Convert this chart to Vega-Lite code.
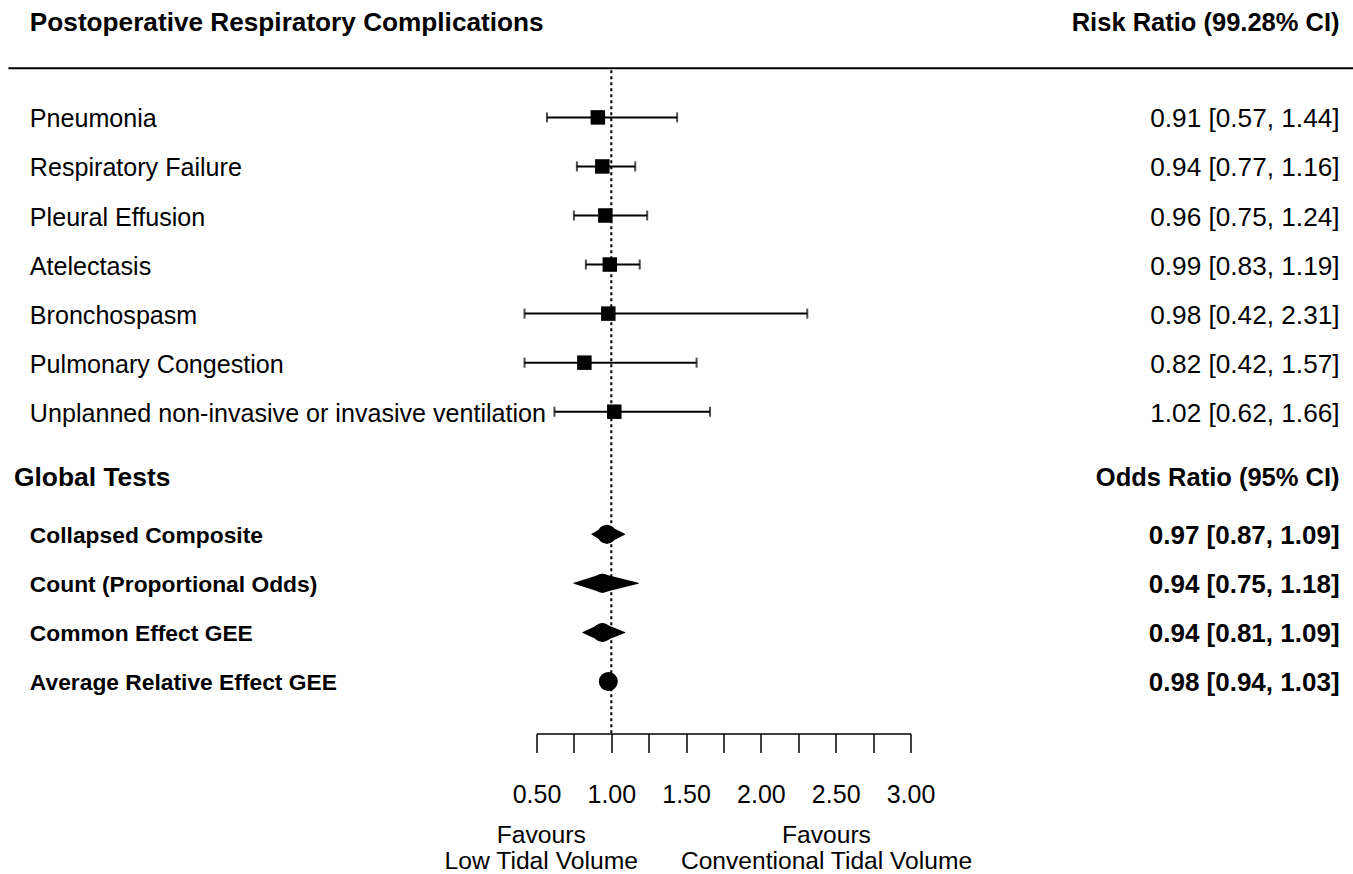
{
  "$schema": "https://vega.github.io/schema/vega-lite/v6.json",
  "width": 374,
  "height": 733.5,
  "autosize": {"type": "none"},
  "padding": {"left": 536.5, "top": 0, "right": 442.5, "bottom": 140.5},
  "background": "white",
  "config": {"view": {"stroke": null}, "font": "Liberation Sans"},
  "datasets": {
    "outcomes": [
      {"label": "Pneumonia", "est": 0.91, "lo": 0.57, "hi": 1.44, "row": 17, "ci": "0.91 [0.57, 1.44]"},
      {"label": "Respiratory Failure", "est": 0.94, "lo": 0.77, "hi": 1.16, "row": 16, "ci": "0.94 [0.77, 1.16]"},
      {"label": "Pleural Effusion", "est": 0.96, "lo": 0.75, "hi": 1.24, "row": 15, "ci": "0.96 [0.75, 1.24]"},
      {"label": "Atelectasis", "est": 0.99, "lo": 0.83, "hi": 1.19, "row": 14, "ci": "0.99 [0.83, 1.19]"},
      {"label": "Bronchospasm", "est": 0.98, "lo": 0.42, "hi": 2.31, "row": 13, "ci": "0.98 [0.42, 2.31]"},
      {"label": "Pulmonary Congestion", "est": 0.82, "lo": 0.42, "hi": 1.57, "row": 12, "ci": "0.82 [0.42, 1.57]"},
      {"label": "Unplanned non-invasive or invasive ventilation", "est": 1.02, "lo": 0.62, "hi": 1.66, "row": 11, "ci": "1.02 [0.62, 1.66]"}
    ],
    "global": [
      {"label": "Collapsed Composite", "est": 0.97, "lo": 0.87, "hi": 1.09, "row": 8.5, "ci": "0.97 [0.87, 1.09]"},
      {"label": "Count (Proportional Odds)", "est": 0.94, "lo": 0.75, "hi": 1.18, "row": 7.5, "ci": "0.94 [0.75, 1.18]"},
      {"label": "Common Effect GEE", "est": 0.94, "lo": 0.81, "hi": 1.09, "row": 6.5, "ci": "0.94 [0.81, 1.09]"},
      {"label": "Average Relative Effect GEE", "est": 0.98, "lo": 0.94, "hi": 1.03, "row": 5.5, "ci": "0.98 [0.94, 1.03]"}
    ]
  },
  "resolve": {"scale": {"size": "independent"}, "axis": {"x": "independent", "y": "independent"}},
  "layer": [
    {
      "data": {"name": "outcomes"},
      "mark": {"type": "rule", "color": "black", "strokeWidth": 2},
      "encoding": {
        "x": {"field": "lo", "type": "quantitative", "scale": {"domain": [0.5, 3.0], "nice": false, "zero": false},
          "axis": {"orient": "bottom", "values": [0.5, 0.75, 1, 1.25, 1.5, 1.75, 2, 2.25, 2.5, 2.75, 3],
            "labelExpr": "(datum.value * 4) % 2 == 0 ? format(datum.value, '.2f') : ''",
            "title": null, "grid": false, "domainColor": "black", "domainWidth": 1.5, "tickColor": "black", "tickWidth": 1.5,
            "tickSize": 19, "labelFont": "Liberation Sans", "labelFontSize": 25, "labelColor": "black", "labelPadding": 30,
            "labelOverlap": false, "labelFlush": false, "labelBound": false}},
        "x2": {"field": "hi"},
        "y": {"field": "row", "type": "quantitative", "scale": {"domain": [4.4393, 19.3935], "nice": false, "zero": false}, "axis": null}
      }
    },
    {
      "data": {"values": [{}]},
      "mark": {"type": "rule", "color": "black", "strokeWidth": 2},
      "encoding": {
        "x": {"datum": -3.03, "type": "quantitative", "scale": {"domain": [0.5, 3.0], "nice": false, "zero": false}, "axis": null},
        "x2": {"datum": 6.0},
        "y": {"datum": 18.0, "type": "quantitative", "scale": {"domain": [4.4393, 19.3935], "nice": false, "zero": false}, "axis": null}
      }
    },
    {
      "data": {"values": [{}]},
      "mark": {"type": "rule", "color": "black", "strokeWidth": 2, "strokeDash": [3, 3]},
      "encoding": {
        "x": {"datum": 1, "type": "quantitative", "scale": {"domain": [0.5, 3.0], "nice": false, "zero": false}, "axis": null},
        "y": {"datum": 17.96, "type": "quantitative", "scale": {"domain": [4.4393, 19.3935], "nice": false, "zero": false}, "axis": null},
        "y2": {"datum": 4.4393}
      }
    },
    {
      "data": {"name": "outcomes"},
      "transform": [{"fold": ["lo", "hi"], "as": ["end", "bound"]}],
      "mark": {"type": "tick", "orient": "vertical", "color": "black", "thickness": 2, "size": 10},
      "encoding": {
        "x": {"field": "bound", "type": "quantitative", "scale": {"domain": [0.5, 3.0], "nice": false, "zero": false}, "axis": null},
        "y": {"field": "row", "type": "quantitative", "scale": {"domain": [4.4393, 19.3935], "nice": false, "zero": false}, "axis": null}
      }
    },
    {
      "data": {"name": "outcomes"},
      "mark": {"type": "square", "color": "black", "filled": true, "opacity": 1, "size": 210},
      "encoding": {
        "x": {"field": "est", "type": "quantitative", "scale": {"domain": [0.5, 3.0], "nice": false, "zero": false}, "axis": null},
        "y": {"field": "row", "type": "quantitative", "scale": {"domain": [4.4393, 19.3935], "nice": false, "zero": false}, "axis": null}
      }
    },
    {
      "data": {"name": "global"},
      "transform": [{"fold": ["lo", "est"], "as": ["vertex", "xv"]}],
      "mark": {"type": "trail", "color": "black"},
      "encoding": {
        "x": {"field": "xv", "type": "quantitative", "scale": {"domain": [0.5, 3.0], "nice": false, "zero": false}, "axis": null},
        "y": {"field": "row", "type": "quantitative", "scale": {"domain": [4.4393, 19.3935], "nice": false, "zero": false}, "axis": null},
        "detail": {"field": "label", "type": "nominal"},
        "size": {"field": "vertex", "type": "ordinal", "scale": {"type": "point", "domain": ["lo", "est"], "range": [0, 19], "padding": 0}, "legend": null}
      }
    },
    {
      "data": {"name": "global"},
      "transform": [{"fold": ["hi", "est"], "as": ["vertex", "xv"]}],
      "mark": {"type": "trail", "color": "black"},
      "encoding": {
        "x": {"field": "xv", "type": "quantitative", "scale": {"domain": [0.5, 3.0], "nice": false, "zero": false}, "axis": null},
        "y": {"field": "row", "type": "quantitative", "scale": {"domain": [4.4393, 19.3935], "nice": false, "zero": false}, "axis": null},
        "detail": {"field": "label", "type": "nominal"},
        "size": {"field": "vertex", "type": "ordinal", "scale": {"type": "point", "domain": ["hi", "est"], "range": [0, 19], "padding": 0}, "legend": null}
      }
    },
    {
      "data": {"name": "outcomes"},
      "mark": {"type": "text", "align": "left", "baseline": "middle", "font": "Liberation Sans", "fontSize": 25.1, "color": "black", "dy": 2},
      "encoding": {
        "x": {"datum": -2.8866, "type": "quantitative", "scale": {"domain": [0.5, 3.0], "nice": false, "zero": false}, "axis": null},
        "y": {"field": "row", "type": "quantitative", "scale": {"domain": [4.4393, 19.3935], "nice": false, "zero": false}, "axis": null},
        "text": {"field": "label"}
      }
    },
    {
      "data": {"name": "outcomes"},
      "mark": {"type": "text", "align": "right", "baseline": "middle", "font": "Liberation Sans", "fontSize": 26.2, "color": "black", "dy": 2},
      "encoding": {
        "x": {"datum": 5.868, "type": "quantitative", "scale": {"domain": [0.5, 3.0], "nice": false, "zero": false}, "axis": null},
        "y": {"field": "row", "type": "quantitative", "scale": {"domain": [4.4393, 19.3935], "nice": false, "zero": false}, "axis": null},
        "text": {"field": "ci"}
      }
    },
    {
      "data": {"name": "global"},
      "mark": {"type": "text", "align": "left", "baseline": "middle", "font": "Liberation Sans", "fontWeight": "bold", "fontSize": 22.8, "color": "black", "dy": 2},
      "encoding": {
        "x": {"datum": -2.8866, "type": "quantitative", "scale": {"domain": [0.5, 3.0], "nice": false, "zero": false}, "axis": null},
        "y": {"field": "row", "type": "quantitative", "scale": {"domain": [4.4393, 19.3935], "nice": false, "zero": false}, "axis": null},
        "text": {"field": "label"}
      }
    },
    {
      "data": {"name": "global"},
      "mark": {"type": "text", "align": "right", "baseline": "middle", "font": "Liberation Sans", "fontWeight": "bold", "fontSize": 26, "color": "black", "dy": 2},
      "encoding": {
        "x": {"datum": 5.868, "type": "quantitative", "scale": {"domain": [0.5, 3.0], "nice": false, "zero": false}, "axis": null},
        "y": {"field": "row", "type": "quantitative", "scale": {"domain": [4.4393, 19.3935], "nice": false, "zero": false}, "axis": null},
        "text": {"field": "ci"}
      }
    },
    {
      "data": {"values": [{}]},
      "mark": {"type": "text", "align": "left", "baseline": "middle", "font": "Liberation Sans", "fontWeight": "bold", "fontSize": 26.2, "color": "black", "dy": 2},
      "encoding": {
        "x": {"datum": -2.8866, "type": "quantitative", "scale": {"domain": [0.5, 3.0], "nice": false, "zero": false}, "axis": null},
        "y": {"datum": 18.97, "type": "quantitative", "scale": {"domain": [4.4393, 19.3935], "nice": false, "zero": false}, "axis": null},
        "text": {"value": "Postoperative Respiratory Complications"}
      }
    },
    {
      "data": {"values": [{}]},
      "mark": {"type": "text", "align": "right", "baseline": "middle", "font": "Liberation Sans", "fontWeight": "bold", "fontSize": 25.5, "color": "black", "dy": 2},
      "encoding": {
        "x": {"datum": 5.868, "type": "quantitative", "scale": {"domain": [0.5, 3.0], "nice": false, "zero": false}, "axis": null},
        "y": {"datum": 18.97, "type": "quantitative", "scale": {"domain": [4.4393, 19.3935], "nice": false, "zero": false}, "axis": null},
        "text": {"value": "Risk Ratio (99.28% CI)"}
      }
    },
    {
      "data": {"values": [{}]},
      "mark": {"type": "text", "align": "left", "baseline": "middle", "font": "Liberation Sans", "fontWeight": "bold", "fontSize": 26.4, "color": "black", "dy": 2},
      "encoding": {
        "x": {"datum": -2.993, "type": "quantitative", "scale": {"domain": [0.5, 3.0], "nice": false, "zero": false}, "axis": null},
        "y": {"datum": 9.69, "type": "quantitative", "scale": {"domain": [4.4393, 19.3935], "nice": false, "zero": false}, "axis": null},
        "text": {"value": "Global Tests"}
      }
    },
    {
      "data": {"values": [{}]},
      "mark": {"type": "text", "align": "right", "baseline": "middle", "font": "Liberation Sans", "fontWeight": "bold", "fontSize": 25.5, "color": "black", "dy": 2},
      "encoding": {
        "x": {"datum": 5.868, "type": "quantitative", "scale": {"domain": [0.5, 3.0], "nice": false, "zero": false}, "axis": null},
        "y": {"datum": 9.69, "type": "quantitative", "scale": {"domain": [4.4393, 19.3935], "nice": false, "zero": false}, "axis": null},
        "text": {"value": "Odds Ratio (95% CI)"}
      }
    },
    {
      "data": {"values": [{}]},
      "mark": {"type": "text", "align": "center", "baseline": "alphabetic", "font": "Liberation Sans", "fontSize": 24.7, "lineHeight": 26, "color": "black"},
      "encoding": {
        "x": {"datum": 0.532, "type": "quantitative", "scale": {"domain": [0.5, 3.0], "nice": false, "zero": false}, "axis": null},
        "y": {"datum": 2.2, "type": "quantitative", "scale": {"domain": [4.4393, 19.3935], "nice": false, "zero": false}, "axis": null},
        "text": {"value": ["Favours", "Low Tidal Volume"]}
      }
    },
    {
      "data": {"values": [{}]},
      "mark": {"type": "text", "align": "center", "baseline": "alphabetic", "font": "Liberation Sans", "fontSize": 24.6, "lineHeight": 26, "color": "black"},
      "encoding": {
        "x": {"datum": 2.4385, "type": "quantitative", "scale": {"domain": [0.5, 3.0], "nice": false, "zero": false}, "axis": null},
        "y": {"datum": 2.2, "type": "quantitative", "scale": {"domain": [4.4393, 19.3935], "nice": false, "zero": false}, "axis": null},
        "text": {"value": ["Favours", "Conventional Tidal Volume"]}
      }
    }
  ]
}
